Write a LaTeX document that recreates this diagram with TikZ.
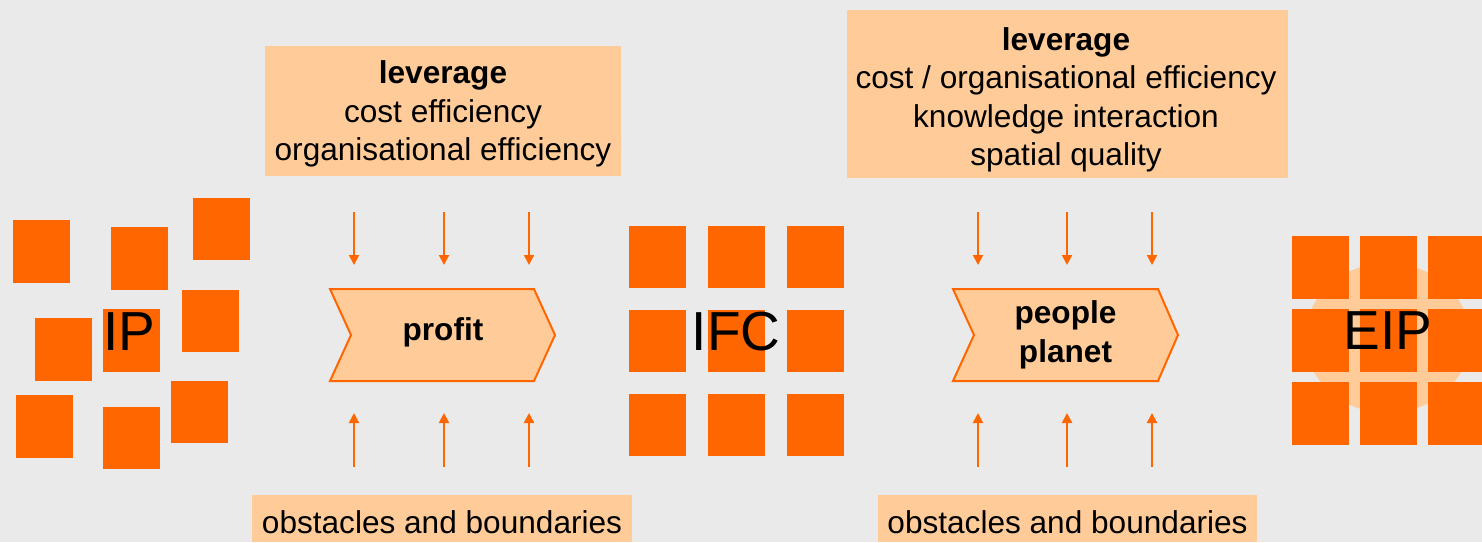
\documentclass[tikz,border=0pt]{standalone}
\usepackage{fontspec}
\setmainfont{Liberation Sans}
\usetikzlibrary{arrows.meta}
\definecolor{bg}{HTML}{EAEAEA}
\definecolor{org}{HTML}{FF6600}
\definecolor{lorg}{HTML}{FFCC99}
\tikzset{
  sq/.style={fill=org, inner sep=0pt, minimum width=57pt, minimum height=62.5pt},
  pale/.style={fill=lorg, inner sep=0pt},
  chev/.style={draw=org, fill=lorg, line width=2pt, line join=miter},
  arr/.style={draw=org, line width=2pt, -{Triangle[width=10pt,length=10pt]}},
  txt/.style={inner sep=0pt, font=\fontsize{31.6}{38.2}\selectfont, align=center},
  big/.style={inner sep=0pt, font=\fontsize{55}{60}\selectfont},
}
\begin{document}
\begin{tikzpicture}[x=1pt,y=-1pt]
\useasboundingbox (0,0) rectangle (1482,542);
\fill[bg] (0,0) rectangle (1482,542);
% top boxes
\node[pale, minimum width=356pt, minimum height=130pt] (top1) at (443,111) {};
\node[txt] (top1t) at (443,114) {\textbf{leverage}\\cost efficiency\\organisational efficiency};
\node[pale, minimum width=441pt, minimum height=168pt] (top2) at (1067.5,94) {};
\node[txt, font=\fontsize{31.6}{38.5}\selectfont] (top2t) at (1066,99.8) {\textbf{leverage}\\cost / organisational efficiency\\knowledge interaction\\spatial quality};
% bottom boxes
\node[pale, minimum width=380pt, minimum height=47pt] (bot1) at (442,518.5) {};
\node[txt, anchor=base] (bot1t) at (442,533) {obstacles and boundaries};
\node[pale, minimum width=379pt, minimum height=47pt] (bot2) at (1067.5,518.5) {};
\node[txt, anchor=base] (bot2t) at (1067.5,533) {obstacles and boundaries};
% IP squares
\foreach \n/\cx/\cy in {1/41.5/251.5, 2/139.5/258.5, 3/221.5/229, 4/63.5/349.5, 5/131.5/340.5, 6/210.5/321, 7/44.5/426.5, 8/131.5/438, 9/199.5/412}
  \node[sq] (ip\n) at (\cx,\cy) {};
\node[big, anchor=base] (IP) at (129,350) {IP};
% IFC squares
\foreach \i/\cx in {1/657.5, 2/736.5, 3/815.5}
  \foreach \j/\cy in {1/257, 2/341, 3/425}
    \node[sq] (ifc\i\j) at (\cx,\cy) {};
\node[big, anchor=base] (IFC) at (736,350) {IFC};
% EIP
\fill[lorg] (1387.5,338) ellipse [x radius=82.5, y radius=75];
\foreach \i/\cx in {1/1320.5, 2/1388.5, 3/1456.5}
  \foreach \j/\cy in {1/267.5, 2/340.5, 3/413.5}
    \node[sq, minimum height=63pt] (eip\i\j) at (\cx,\cy) {};
\node[big, anchor=base] (EIP) at (1388,349) {EIP};
% chevrons
\draw[chev] (330,289) -- (534,289) -- (555,335) -- (534,381) -- (330,381) -- (351,335) -- cycle;
\node[txt, anchor=base] (profit) at (443,340) {\textbf{profit}};
\draw[chev] (953,289) -- (1158,289) -- (1178,335) -- (1158,381) -- (953,381) -- (974,335) -- cycle;
\node[txt, anchor=base] (people) at (1065.5,323) {\textbf{people}};
\node[txt, anchor=base] (planet) at (1065.5,362) {\textbf{planet}};
% arrows
\foreach \k/\ax in {1/354, 2/444, 3/529, 4/978, 5/1067, 6/1152} {
  \coordinate (da\k) at (\ax,212);
  \coordinate (db\k) at (\ax,265);
  \coordinate (ua\k) at (\ax,467);
  \coordinate (ub\k) at (\ax,413);
  \draw[arr] (da\k) -- (db\k);
  \draw[arr] (ua\k) -- (ub\k);
}
\end{tikzpicture}
\end{document}
